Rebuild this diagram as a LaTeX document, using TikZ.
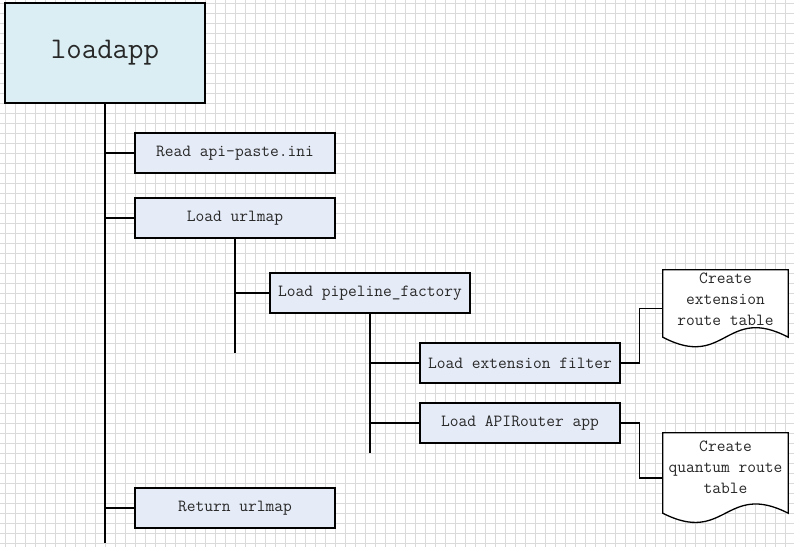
\documentclass[tikz,border=0pt]{standalone}
\usepackage{fontspec}
\usetikzlibrary{calc}
\definecolor{appfill}{RGB}{218,238,243}
\definecolor{stepfill}{RGB}{229,235,247}
\definecolor{gridcol}{RGB}{218,218,218}
\definecolor{txt}{RGB}{40,40,40}
\pgfdeclarelayer{gridlayer}
\pgfdeclarelayer{background}
\pgfsetlayers{gridlayer,background,main}
\begin{document}
\begin{tikzpicture}[x=1pt,y=-1pt,
  gridline/.style={draw=gridcol, line width=0.8pt},
  conn/.style={draw=black, line width=1.3pt},
  appbox/.style={draw=black, line width=1.3pt, fill=appfill, minimum width=200pt, minimum height=100pt, inner sep=0pt, text=txt, font=\ttfamily\fontsize{30}{36}\selectfont},
  stepbox/.style={draw=black, line width=1.3pt, fill=stepfill, minimum width=200pt, minimum height=40pt, inner sep=0pt, text=txt, font=\ttfamily\fontsize{17}{21}\selectfont},
  docbox/.style={inner sep=0pt, minimum width=125pt, text=txt, text depth=0pt, font=\ttfamily\fontsize{17}{21}\selectfont},
  docline/.style={draw=black, line width=1.3pt, fill=white}
]
\useasboundingbox (0,0) rectangle (794,547);
\begin{pgfonlayer}{gridlayer}
\fill[white] (0,0) rectangle (794,547);
\foreach \gx in {5,15,...,795} \draw[gridline] (\gx,0) -- (\gx,547);
\foreach \gk in {0,...,54} \draw[gridline] (0,3.3+10*\gk) -- (794,3.3+10*\gk);
\end{pgfonlayer}

% nodes
\node[appbox] (app) at (105,53) {loadapp};
\node[stepbox] (read) at (235,153) {Read api-paste.ini};
\node[stepbox] (urlmap) at (235,218) {Load urlmap};
\node[stepbox] (pipe) at (370,293) {Load pipeline\_factory};
\node[stepbox] (extf) at (520,363) {Load extension filter};
\node[stepbox] (api) at (520,423) {Load APIRouter app};
\node[stepbox] (ret) at (235,508) {Return urlmap};

\node[docbox, minimum height=77pt, text height=33.6pt] (docE) at (725.5,308.5)
  {\begin{tabular}[b]{@{}c@{}}Create\\extension\\route table\end{tabular}};
\node[docbox, minimum height=90pt, text height=31.4pt] (docQ) at (725.5,478)
  {\begin{tabular}[b]{@{}c@{}}Create\\quantum route\\table\end{tabular}};

% document outlines, behind their text
\begin{pgfonlayer}{background}
\foreach \d/\k in {docE/33,docQ/32}{
  \draw[docline] (\d.north west) -- ($(\d.south west)+(0,-10)$)
    .. controls ($(\d.south)+(0,\k-10)$) and ($(\d.south)+(0,-\k-10)$) .. ($(\d.south east)+(0,-10)$)
    -- (\d.north east) -- cycle;
}
\end{pgfonlayer}

% end points of the trunks
\coordinate (mainend) at (105,543);
\coordinate (urlend) at (235,353);
\coordinate (pipeend) at (370,453);

% connectors
\draw[conn] (app.south) -- (mainend);
\draw[conn] (read.west -| app.south) -- (read.west);
\draw[conn] (urlmap.west -| app.south) -- (urlmap.west);
\draw[conn] (ret.west -| app.south) -- (ret.west);
\draw[conn] (urlmap.south) -- (urlend);
\draw[conn] (pipe.west -| urlmap.south) -- (pipe.west);
\draw[conn] (pipe.south) -- (pipeend);
\draw[conn] (extf.west -| pipe.south) -- (extf.west);
\draw[conn] (api.west -| pipe.south) -- (api.west);
\draw[conn] (extf.east) -- ($(extf.east)+(19,0)$) |- (docE.west);
\draw[conn] (api.east) -- ($(api.east)+(19,0)$) |- (docQ.west);
\end{tikzpicture}
\end{document}
